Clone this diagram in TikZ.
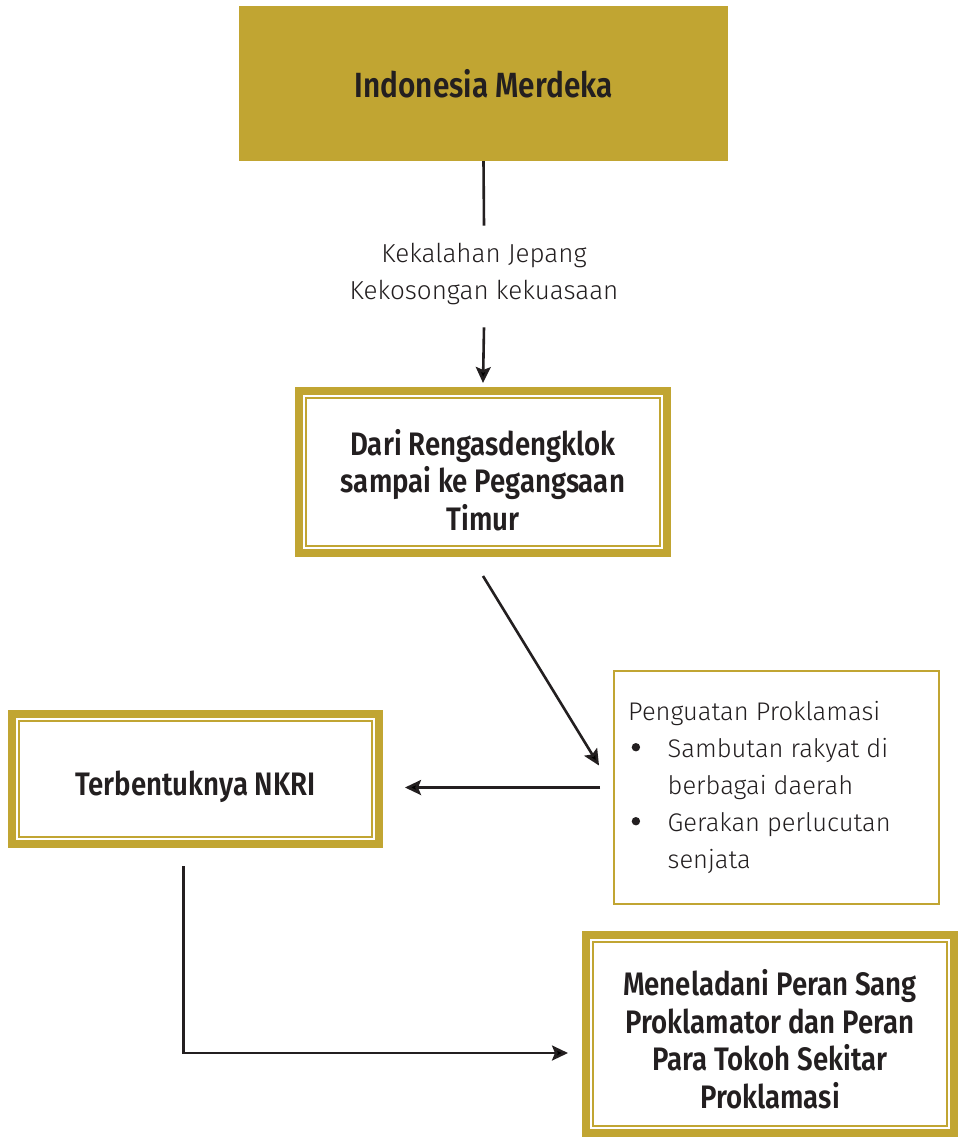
\documentclass[tikz,border=0pt]{standalone}
\usepackage{fontspec}
\setmainfont{Fira Sans Light}
\newfontfamily\condf{Fira Sans SemiBold}[FakeStretch=0.85]
\usetikzlibrary{arrows.meta}
\definecolor{gold}{HTML}{C1A532}
\definecolor{ink}{HTML}{231F20}
\newcommand{\mybul}{\makebox[36pt][l]{\raisebox{6pt}{\tikz\fill[ink] (0,0) circle (4.2pt);}}}
\tikzset{
  boldtxt/.style={font=\condf\fontsize{32.5}{37.5}\selectfont},
  toptxt/.style={font=\condf\fontsize{35}{40}\selectfont},
  regtxt/.style={font=\fontsize{26}{37.5}\selectfont},
  dbox/.style={draw=gold, line width=8pt, fill=white},
  inner/.style={draw=gold, line width=2.5pt},
  arr/.style={draw=ink, line width=2.6pt, -{Stealth[length=16pt,width=15pt,inset=3pt]}},
  plain/.style={draw=ink, line width=2.6pt},
}
\begin{document}
\begin{tikzpicture}[x=1pt, y=-1pt, every node/.style={text=ink, align=center}]
\useasboundingbox (0,0) rectangle (958,1137);
\fill[white] (0,0) rectangle (958,1137);

% top box
\node[fill=gold, minimum width=489pt, minimum height=155pt, toptxt] (top) at (483.5,83.5) {Indonesia Merdeka};

% label
\node[regtxt, inner ysep=19pt] (lab) at (484,274) {Kekalahan Jepang\\Kekosongan kekuasaan};

% box 2
\node[dbox, minimum width=368pt, minimum height=162pt] (b2) at (483,472) {};
\draw[inner] ([xshift=11pt,yshift=-11pt]b2.north west) rectangle ([xshift=-11pt,yshift=11pt]b2.south east);
\node[boldtxt] (b2t) at ([yshift=-8pt]b2.center) {Dari Rengasdengklok\\sampai ke Pegangsaan\\Timur};

% box 3
\node[dbox, minimum width=367pt, minimum height=130pt] (b3) at (195.5,779) {};
\draw[inner] ([xshift=11pt,yshift=-11pt]b3.north west) rectangle ([xshift=-11pt,yshift=11pt]b3.south east);
\node[boldtxt] (b3t) at ([yshift=-8pt]b3.center) {Terbentuknya NKRI};

% box 4
\node[dbox, minimum width=368pt, minimum height=198pt] (b4) at (770,1034) {};
\draw[inner] ([xshift=11pt,yshift=-11pt]b4.north west) rectangle ([xshift=-11pt,yshift=11pt]b4.south east);
\node[boldtxt] (b4t) at ([yshift=-5pt]b4.center) {Meneladani Peran Sang\\Proklamator dan Peran\\Para Tokoh Sekitar\\Proklamasi};

% box 5
\node[draw=gold, line width=2pt, minimum width=325pt, minimum height=233pt] (b5) at (776.5,787.5) {};
\node[font=\fontsize{25.5}{37}\selectfont, align=left, anchor=north west, inner sep=0pt] (b5t) at (628,701) {Penguatan Proklamasi\\
\hspace*{3.5pt}\mybul Sambutan rakyat di\\
\hspace*{39.5pt}berbagai daerah\\
\hspace*{3.5pt}\mybul Gerakan perlucutan\\
\hspace*{39.5pt}senjata};

% connectors
\draw[plain] (top.south) -- ([yshift=-2pt]lab.north);
\draw[arr] ([yshift=-3pt]lab.south) -- ([yshift=4pt]b2.north);
\draw[arr] ([yshift=-19pt]b2.south) -- ([xshift=-14pt,yshift=22pt]b5.west);
\draw[arr] ([xshift=-13pt]b5.west) -- ([xshift=22pt]b5.west -| b3.east);
\draw[arr] ([xshift=-12pt,yshift=-18pt]b3.south) |- ([xshift=-14pt,yshift=-19pt]b4.west);
\end{tikzpicture}
\end{document}
